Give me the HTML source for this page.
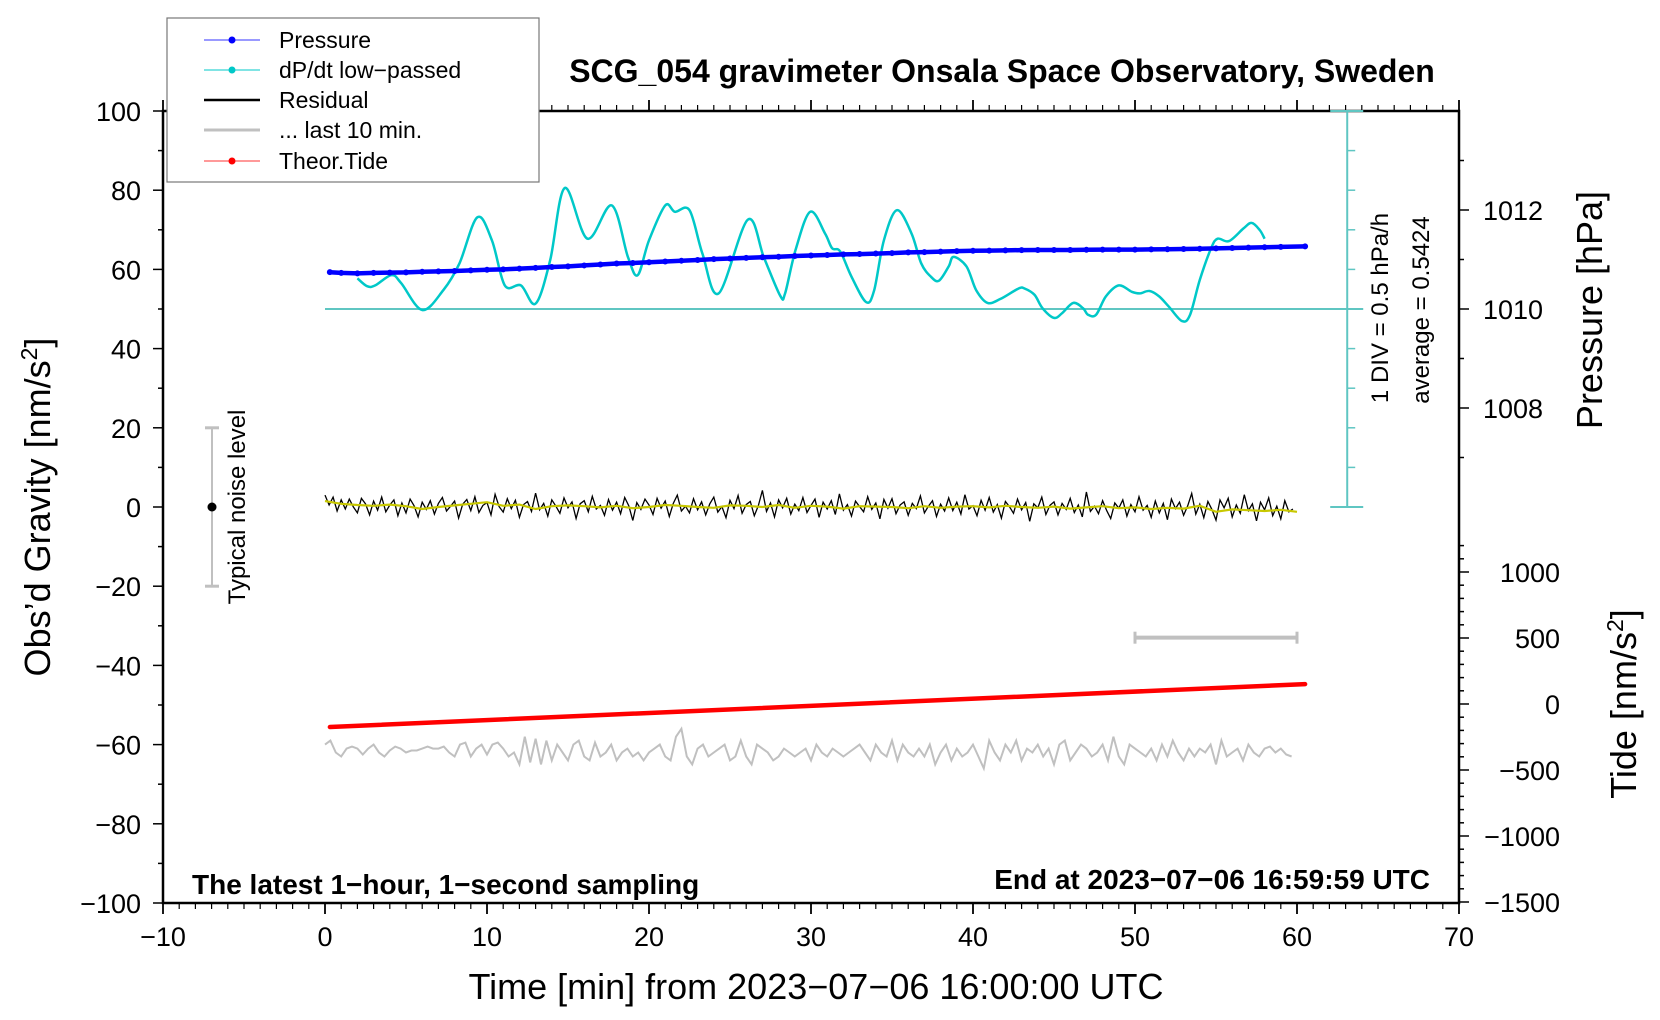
<!DOCTYPE html>
<html><head><meta charset="utf-8"><style>
html,body{margin:0;padding:0;background:#fff;}
svg{display:block;font-family:"Liberation Sans",Arial,sans-serif;}
</style></head><body>
<svg id="chart" width="1660" height="1020" viewBox="0 0 1660 1020" xmlns="http://www.w3.org/2000/svg">
<rect x="0" y="0" width="1660" height="1020" fill="#fff"/>
<g id="axes"></g>
<g id="marks"></g>
<text x="1002" y="82" text-anchor="middle" font-size="32" font-weight="bold">SCG_054 gravimeter Onsala Space Observatory, Sweden</text>
<text x="192" y="894" font-size="28" font-weight="bold">The latest 1−hour, 1−second sampling</text>
<text x="1430" y="889" text-anchor="end" font-size="28" font-weight="bold">End at 2023−07−06 16:59:59 UTC</text>
<text x="816" y="999" text-anchor="middle" font-size="36">Time [min] from 2023−07−06 16:00:00 UTC</text>
<text transform="translate(50,507) rotate(-90)" text-anchor="middle" font-size="36">Obs’d Gravity [nm/s<tspan font-size="23" dy="-13">2</tspan><tspan dy="13">]</tspan></text>
<text transform="translate(1602,310) rotate(-90)" text-anchor="middle" font-size="36">Pressure [hPa]</text>
<text transform="translate(1636,704) rotate(-90)" text-anchor="middle" font-size="36">Tide [nm/s<tspan font-size="23" dy="-13">2</tspan><tspan dy="13">]</tspan></text>
<text transform="translate(1388,308) rotate(-90)" text-anchor="middle" font-size="24">1 DIV = 0.5 hPa/h</text>
<text transform="translate(1429,310) rotate(-90)" text-anchor="middle" font-size="24">average = 0.5424</text>
<text transform="translate(245,507) rotate(-90)" text-anchor="middle" font-size="24">Typical noise level</text>
<g>
<rect x="167" y="18" width="372" height="164" fill="#fff" stroke="#777" stroke-width="1.2"/>
<g><line x1="204" y1="40" x2="260" y2="40" stroke="#3333ff" stroke-width="1"/><circle cx="232" cy="40" r="3.5" fill="#0000ff"/><text x="279" y="48" font-size="23">Pressure</text></g>
<g><line x1="204" y1="70" x2="260" y2="70" stroke="#00c8c8" stroke-width="1"/><circle cx="232" cy="70" r="3.5" fill="#00c8c8"/><text x="279" y="78" font-size="23">dP/dt low−passed</text></g>
<g><line x1="204" y1="100" x2="260" y2="100" stroke="#000" stroke-width="2.5"/><text x="279" y="108" font-size="23">Residual</text></g>
<g><line x1="204" y1="130" x2="260" y2="130" stroke="#c0c0c0" stroke-width="3"/><text x="279" y="138" font-size="23">... last 10 min.</text></g>
<g><line x1="204" y1="161" x2="260" y2="161" stroke="#ff3333" stroke-width="1"/><circle cx="232" cy="161" r="3.5" fill="#ff0000"/><text x="279" y="169" font-size="23">Theor.Tide</text></g>
</g>
</svg>
<script>
// ---- data ----
const xTicks = [-10,0,10,20,30,40,50,60,70];
const yTicks = [-100,-80,-60,-40,-20,0,20,40,60,80,100];
const pressureTicks = [1008,1010,1012];
const tideTicks = [-1500,-1000,-500,0,500,1000];
const dpdtAverage = 0.5424;
const dpdtTimes = [2.0,2.6,3.1,4.1,4.7,6.0,7.3,8.3,9.4,10.3,11.1,12.1,13.0,13.9,14.8,16.2,17.7,18.7,19.3,20.0,21.0,21.6,22.5,23.3,24.3,26.1,27.1,28.1,28.4,29.05,29.95,30.86,31.3,31.8,32.5,33.4,33.9,34.5,35.3,36.2,36.8,37.4,37.9,38.5,38.8,39.6,40.2,40.9,41.7,42.8,43.2,43.8,44.3,45.0,45.5,46.2,46.8,47.1,47.6,48.2,49.0,49.8,50.3,50.9,51.5,52.1,52.9,53.4,54.0,54.7,55.1,55.8,56.7,57.2,57.7,58.0];
const dpdtValues = [0.93,0.83,0.84,0.97,0.87,0.53,0.78,1.12,1.70,1.41,0.84,0.84,0.61,1.16,2.07,1.43,1.85,1.20,0.97,1.41,1.85,1.77,1.79,1.24,0.74,1.67,1.19,0.71,0.74,1.29,1.77,1.50,1.31,1.27,0.95,0.63,0.78,1.41,1.79,1.50,1.12,0.95,0.90,1.08,1.20,1.08,0.78,0.62,0.67,0.80,0.80,0.72,0.55,0.43,0.49,0.62,0.55,0.47,0.47,0.70,0.84,0.76,0.74,0.77,0.70,0.57,0.39,0.47,0.91,1.31,1.43,1.40,1.56,1.63,1.54,1.43];
const pressureTimes = [0.3,1,2,3,4,5,6,7,8,9,10,11,12,13,14,15,16,17,18,19,20,21,22,23,24,25,26,27,28,29,30,31,32,33,34,35,36,37,38,39,40,41,42,43,44,45,46,47,48,49,50,51,52,53,54,55,56,57,58,59,60.5];
const pressureValues = [1010.744,1010.73,1010.72,1010.73,1010.736,1010.74,1010.752,1010.76,1010.768,1010.78,1010.792,1010.80,1010.816,1010.83,1010.848,1010.86,1010.88,1010.90,1010.92,1010.93,1010.944,1010.96,1010.976,1010.99,1011.008,1011.02,1011.032,1011.045,1011.056,1011.07,1011.08,1011.09,1011.104,1011.11,1011.12,1011.13,1011.144,1011.15,1011.16,1011.17,1011.176,1011.18,1011.184,1011.19,1011.192,1011.192,1011.192,1011.196,1011.2,1011.2,1011.2,1011.204,1011.208,1011.212,1011.216,1011.224,1011.232,1011.24,1011.248,1011.255,1011.264];
const residualStep = 0.25;
const residualValues = [3,0.5,2.5,-1,1.8,-0.5,2,0,-1.5,2.2,0.8,-2,1.5,-0.8,2.5,-1.2,0.5,1.8,-2.2,1,
-1.5,2,0.3,-2.5,1.2,-0.6,1.6,-1.8,0.9,2.4,-1,0.2,1.5,-2.8,0.7,1.9,-0.9,2.6,-1.4,0.4,
1.1,-2,3.2,0.1,-1.3,2.1,-0.4,1.7,-2.6,0.6,1.4,-1.1,3.5,-0.7,0.9,-2.3,1.8,0.2,-1.6,2.3,
-0.2,1.3,-2.9,0.8,1.6,-1.2,2.7,-0.5,0.4,-2.1,1.9,-0.8,1.2,-1.7,2.4,0.3,-3.4,1.1,-0.6,2,
0.5,-1.9,2.2,-0.3,1.5,-2.4,0.9,3,-1,0.2,-1.5,2.1,-0.7,1.3,-2,0.8,2.5,-1.3,0.1,-2.7,
1.7,-0.4,2.9,-1.6,0.6,1.4,-2.2,0.3,4.2,-1.1,1,-2.5,1.8,-0.2,2.2,-1.8,0.7,-0.9,2.4,-1.4,
0.4,2,-2.6,1.2,-0.5,1.6,-1.9,3.3,-0.8,0.6,-2.3,1.5,0.1,-1.2,2.6,-0.6,1,-3,1.9,-0.3,
2.1,-1.7,0.5,1.3,-2.1,0.9,-0.4,2.8,-1.5,0.2,1.6,-2.4,0.7,-1,2.3,-0.9,1.2,-1.8,3.1,-0.5,
0.3,-2.2,1.7,-0.8,2.4,-1.3,0.6,-2.8,1.4,0.1,-1.6,2,-0.7,1.1,-3.6,0.8,-0.2,2.5,-1.9,0.4,
1.3,-2,0.9,-0.6,2.2,-1.4,0.5,-2.5,3.8,-1.1,0.2,-1.7,1.6,-0.9,-2.9,1,-0.3,1.8,-2.3,0.6,
-1.2,2.6,-0.8,0.4,-2.6,1.5,-1.5,0.9,-3.2,2,-0.4,1.2,-2.1,0.3,3.4,-1.8,0.7,-2.7,1.4,-0.6,
-3.3,1.8,-0.2,2.2,-2.5,0.5,-1.6,3.1,-0.9,0.8,-3.5,1.2,-0.7,2.3,-2.2,0.2,-3,1.6,-1.2,-0.5];
const smoothStep = 1;
const smoothValues = [1.5,0.8,0.5,0.3,0.6,0.2,-0.5,0,0.4,0.8,1.2,0.3,0.6,-0.5,0.2,0.4,0.2,-0.1,0.3,-0.3,0,0.5,0.3,0,-0.2,0.4,0.3,0,0.5,-0.2,0.3,0.1,-0.4,0.2,0.1,0,-0.3,0.2,-0.2,0.1,0.2,-0.1,0.3,0,-0.2,0.1,-0.4,-0.1,0.2,-0.3,-0.1,-0.5,-0.2,-0.4,0.3,-1.2,-0.6,-0.8,-1.0,-0.7,-1.2];
const last10Step = 1/3;
const last10Values = [-60,-59,-62,-63,-61,-60.5,-61,-62.5,-61,-60,-62,-63,-61.5,-60.5,-61,-62,-61.5,-61.5,-61,-60.5,
-61,-61,-60.5,-62,-63,-60,-59.5,-63,-61,-60,-62.5,-60,-59.5,-61,-63,-62,-65,-58,-64.5,-58.5,
-65,-59,-64,-60,-62,-64,-60,-59,-63,-64,-59.5,-63,-62,-60,-64,-62,-61,-63,-62,-64,
-62,-61,-60,-63,-64,-58,-56,-63,-65,-61,-60,-63,-62,-61,-60,-64,-63,-59,-63,-65,
-60,-61,-62,-64,-63,-61,-62,-63,-62,-61,-64,-60,-62,-63,-61,-62,-63,-62,-61,-60,
-62,-64,-60,-62,-63,-59,-64,-60,-62,-63,-61,-63,-60,-65,-62,-60,-64,-61,-63,-62,
-60,-63,-66,-59,-62,-64,-60,-62,-59,-64,-61,-62,-60,-63,-61,-65,-60,-59,-64,-62,
-60,-61,-63,-62,-60,-64,-58,-63,-65,-60,-61,-62,-63,-61,-64,-60,-63,-59,-62,-64,
-61,-63,-61,-62,-60,-65,-59,-63,-62,-61,-64,-60,-62,-63,-61,-60.5,-62,-61,-62.5,-63];
const tideTimes = [0.3,60.5];
const tideValues = [-174,151];
const noiseLevel = [-20,20];
const last10Range = [50,60];
const last10BarLevel = -33;

// ---- scales ----
const X = t => 325 + t*16.2;
const Y = g => 507 - g*3.96;
const YP = p => Y(50 + (p-1010)*12.5);
const YT = v => 704 - v*0.132;
const YD = v => Y(50 + (v-dpdtAverage)*20);

const NS='http://www.w3.org/2000/svg';
function mk(parent, tag, attrs){const e=document.createElementNS(NS,tag);for(const k in attrs)e.setAttribute(k,attrs[k]);parent.appendChild(e);return e;}
const axes=document.getElementById('axes');
const marks=document.getElementById('marks');

let fr=mk(axes,'rect',{x:163,y:111,width:1296,height:792,fill:'none',stroke:'#000','stroke-width':2.5});


for(let t=-10;t<=70;t++){
  const major=t%10===0;
  const l=major?11:6;
  let b=mk(axes,'line',{x1:X(t),x2:X(t),y1:903,y2:903+l,stroke:'#000','stroke-width':major?1.8:1.2});
  
  
  let tp=mk(axes,'line',{x1:X(t),x2:X(t),y1:111,y2:111-l,stroke:'#000','stroke-width':major?1.8:1.2});
  
  
}
xTicks.forEach(t=>{
  let e=mk(axes,'text',{x:X(t),y:946,'text-anchor':'middle','font-size':27});
  e.textContent=String(t).replace('-','−');
  
  
});
for(let g=-100;g<=100;g+=10){
  const major=g%20===0;
  let e=mk(axes,'line',{x1:163-(major?10:5),x2:163,y1:Y(g),y2:Y(g),stroke:'#000','stroke-width':1.5});
  
  
}
yTicks.forEach(g=>{
  let e=mk(axes,'text',{x:141,y:Y(g)+10,'text-anchor':'end','font-size':27});
  e.textContent=String(g).replace('-','−');
  
  
});
for(let p=1007;p<=1013;p++){
  const major=p%2===0;
  let e=mk(axes,'line',{x1:1459,x2:1459+(major?10:5),y1:YP(p),y2:YP(p),stroke:'#000','stroke-width':1.5});
  
  
}
pressureTicks.forEach(p=>{
  let e=mk(axes,'text',{x:1483,y:YP(p)+10,'font-size':27});
  e.textContent=p;
  
  
});
for(let v=-1500;v<=1200;v+=100){
  const major=v%500===0;
  let e=mk(axes,'line',{x1:1459,x2:1459+(major?10:5),y1:YT(v),y2:YT(v),stroke:'#000','stroke-width':1.5});
  
  
}
tideTicks.forEach(v=>{
  let e=mk(axes,'text',{x:1560,y:YT(v)+10,'text-anchor':'end','font-size':27});
  e.textContent=String(v).replace('-','−');
  
  
});
const cAx=X(63.1);
let ca=mk(axes,'line',{x1:cAx,x2:cAx,y1:Y(100),y2:Y(0),stroke:'#5fc6c2','stroke-width':2});


[0,100].forEach(g=>{
  let e=mk(axes,'line',{x1:cAx-17,x2:cAx+16,y1:Y(g),y2:Y(g),stroke:'#5fc6c2','stroke-width':2});
  
  
});
for(let g=10;g<100;g+=10){
  let e=mk(axes,'line',{x1:cAx,x2:cAx+8,y1:Y(g),y2:Y(g),stroke:'#5fc6c2','stroke-width':1.5});
  
  
}
let base=mk(axes,'line',{x1:X(0),x2:cAx+16,y1:YD(dpdtAverage),y2:YD(dpdtAverage),stroke:'#5fc6c2','stroke-width':2});



let nb=mk(marks,'line',{x1:212,x2:212,y1:Y(noiseLevel[0]),y2:Y(noiseLevel[1]),stroke:'#c0c0c0','stroke-width':2});


noiseLevel.forEach(g=>{
  let e=mk(marks,'line',{x1:205,x2:219,y1:Y(g),y2:Y(g),stroke:'#c0c0c0','stroke-width':3});
  
  
});
let nd=mk(marks,'circle',{cx:212,cy:Y(0),r:4.5,fill:'#000'});



function poly(ts,vs,ys){return ts.map((t,i)=>(i?'L':'M')+X(t).toFixed(1)+','+ys(vs[i]).toFixed(1)).join('');}
function smooth(ts,vs,ys){
  const p=ts.map((t,i)=>[X(t),ys(vs[i])]);
  let d='M'+p[0][0]+','+p[0][1];
  for(let i=0;i<p.length-1;i++){
    const p0=p[Math.max(0,i-1)],p1=p[i],p2=p[i+1],p3=p[Math.min(p.length-1,i+2)];
    const c1=[p1[0]+(p2[0]-p0[0])/6,p1[1]+(p2[1]-p0[1])/6];
    const c2=[p2[0]-(p3[0]-p1[0])/6,p2[1]-(p3[1]-p1[1])/6];
    d+='C'+c1.map(v=>v.toFixed(1))+' '+c2.map(v=>v.toFixed(1))+' '+p2[0].toFixed(1)+','+p2[1].toFixed(1);
  }
  return d;
}

let dp=mk(marks,'path',{d:smooth(dpdtTimes,dpdtValues,YD),fill:'none',stroke:'#00c8c8','stroke-width':2.5});


let pr=mk(marks,'path',{d:poly(pressureTimes,pressureValues,YP),fill:'none',stroke:'#0000ff','stroke-width':4.5,'stroke-linejoin':'round'});


pressureTimes.forEach((t,i)=>{
  let c=mk(marks,'circle',{cx:X(t),cy:YP(pressureValues[i]),r:3,fill:'#0000ff'});
  
  
});
const resT=residualValues.map((v,i)=>i*residualStep);
let rs=mk(marks,'path',{d:poly(resT,residualValues,Y),fill:'none',stroke:'#000','stroke-width':1.3});


const smT=smoothValues.map((v,i)=>i*smoothStep);
let sm=mk(marks,'path',{d:poly(smT,smoothValues,Y),fill:'none',stroke:'#c8c800','stroke-width':2.2});


let td=mk(marks,'path',{d:poly(tideTimes,tideValues,YT),fill:'none',stroke:'#ff0000','stroke-width':4.5,'stroke-linecap':'round'});


const lT=last10Values.map((v,i)=>i*last10Step);
let l10=mk(marks,'path',{d:poly(lT,last10Values,Y),fill:'none',stroke:'#c0c0c0','stroke-width':2});


let lb=mk(marks,'line',{x1:X(last10Range[0]),x2:X(last10Range[1]),y1:Y(last10BarLevel),y2:Y(last10BarLevel),stroke:'#c0c0c0','stroke-width':4});


last10Range.forEach(t=>{
  let e=mk(marks,'line',{x1:X(t),x2:X(t),y1:Y(last10BarLevel)-6,y2:Y(last10BarLevel)+6,stroke:'#c0c0c0','stroke-width':3});
  
  
});
</script>
</body></html>
